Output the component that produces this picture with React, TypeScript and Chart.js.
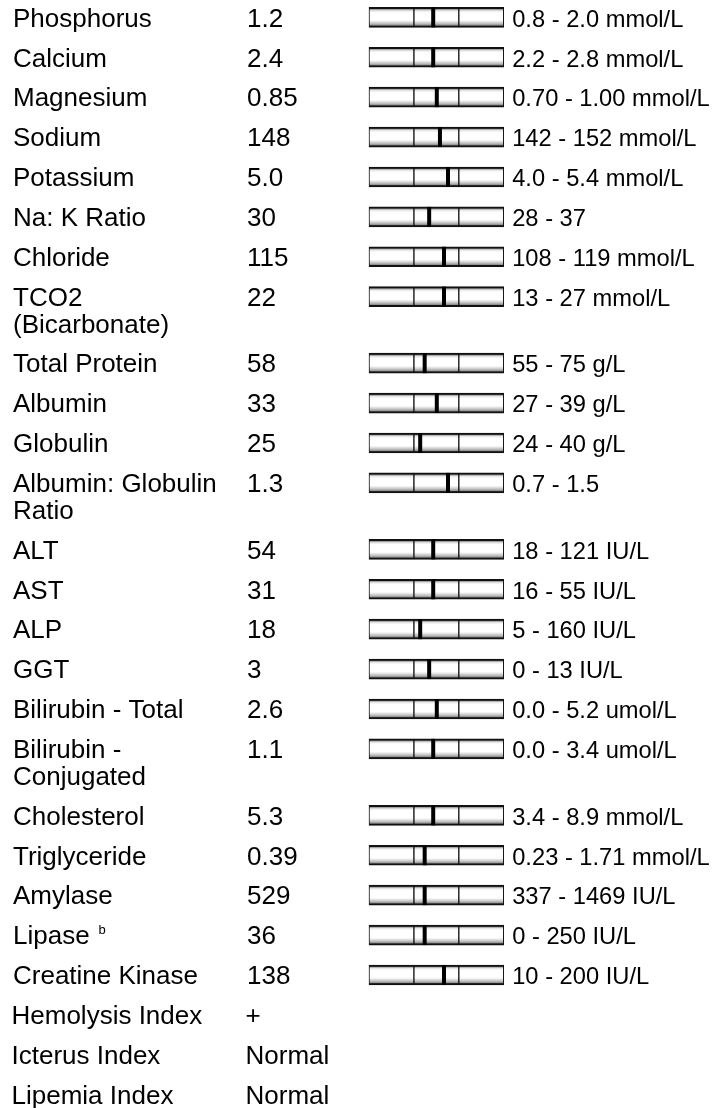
import React, { useEffect, useRef } from 'react';
import { Chart, registerables } from 'chart.js';

Chart.register(...registerables);

// ---- data ----
const testNames = [
  'Phosphorus', 'Calcium', 'Magnesium', 'Sodium', 'Potassium', 'Na: K Ratio', 'Chloride',
  'TCO2\n(Bicarbonate)', 'Total Protein', 'Albumin', 'Globulin', 'Albumin: Globulin\nRatio',
  'ALT', 'AST', 'ALP', 'GGT', 'Bilirubin - Total', 'Bilirubin -\nConjugated', 'Cholesterol',
  'Triglyceride', 'Amylase', 'Lipase', 'Creatine Kinase', 'Hemolysis Index', 'Icterus Index',
  'Lipemia Index',
];
const footnotes = [
  '', '', '', '', '', '', '', '', '', '', '', '', '', '', '', '', '', '', '', '', '', 'b', '', '', '', '',
];
const results = [
  '1.2', '2.4', '0.85', '148', '5.0', '30', '115', '22', '58', '33', '25', '1.3',
  '54', '31', '18', '3', '2.6', '1.1', '5.3', '0.39', '529', '36', '138', '+', 'Normal', 'Normal',
];
const refRanges = [
  '0.8 - 2.0 mmol/L', '2.2 - 2.8 mmol/L', '0.70 - 1.00 mmol/L', '142 - 152 mmol/L',
  '4.0 - 5.4 mmol/L', '28 - 37', '108 - 119 mmol/L', '13 - 27 mmol/L', '55 - 75 g/L',
  '27 - 39 g/L', '24 - 40 g/L', '0.7 - 1.5', '18 - 121 IU/L', '16 - 55 IU/L', '5 - 160 IU/L',
  '0 - 13 IU/L', '0.0 - 5.2 umol/L', '0.0 - 3.4 umol/L', '3.4 - 8.9 mmol/L',
  '0.23 - 1.71 mmol/L', '337 - 1469 IU/L', '0 - 250 IU/L', '10 - 200 IU/L', '', '', '',
];
// marker position inside the reference interval (0 = low limit, 1 = high limit), read from the gauges
const markerPos: (number | null)[] = [
  0.43, 0.43, 0.51, 0.58, 0.76, 0.34, 0.67, 0.67, 0.24, 0.51, 0.14, 0.76,
  0.43, 0.43, 0.14, 0.34, 0.51, 0.43, 0.43, 0.24, 0.24, 0.24, 0.67, null, null, null,
];
// gauge sections: below range, within range, above range
const gaugeSections: [number, number][] = [[-1, 0], [0, 1], [1, 2]];

// ---- layout ----
const W = 725;
const H = 1108;
const LINE_PX = 26.6;
const TOP_PX = 5.4;
const GAUGE_LEFT = 369;
const GAUGE_RIGHT = 503.7;
const NAME_X = 13;
const VALUE_X = 247;
const RANGE_GAP = 8.5;
const BASE_FRAC = 0.8;
const BAR_FRAC = 0.45;
const BAR_PX = 20;
const FAMILY = '"Liberation Sans", Arial, Helvetica, sans-serif';
const FONT = `26px ${FAMILY}`;
const RANGE_FONT = `23.7px ${FAMILY}`;
const SUP_FONT = `13px ${FAMILY}`;

const lineCounts = testNames.map((n) => n.split('\n').length);
const rowTops: number[] = [];
{
  let acc = 0;
  lineCounts.forEach((c) => {
    rowTops.push(acc);
    acc += c + 0.5;
  });
}
const gaugeRows = markerPos.map((m, i) => (m == null ? -1 : i)).filter((i) => i >= 0);

function gaugeFill(ctx: any) {
  const chart = ctx.chart;
  const raw = ctx.raw;
  if (!chart.chartArea || !raw) return '#ffffff';
  const yc = chart.scales.y.getPixelForValue(raw.y);
  const top = yc - BAR_PX / 2;
  const g = chart.ctx.createLinearGradient(0, top, 0, top + BAR_PX);
  g.addColorStop(0, '#000000');
  g.addColorStop(0.1, '#9a9a9a');
  g.addColorStop(0.17, '#e6e6e6');
  g.addColorStop(0.26, '#ffffff');
  g.addColorStop(0.64, '#ffffff');
  g.addColorStop(0.72, '#e2e2e2');
  g.addColorStop(0.81, '#c0c0c0');
  g.addColorStop(0.9, '#8a8a8a');
  g.addColorStop(1, '#000000');
  return g;
}

const textPlugin = {
  id: 'labTable',
  afterDraw(chart: any) {
    const { ctx, scales } = chart;
    const x = scales.x;
    const y = scales.y;
    ctx.save();
    ctx.fillStyle = '#000000';
    ctx.textAlign = 'left';
    ctx.textBaseline = 'alphabetic';
    testNames.forEach((name, i) => {
      const shift = markerPos[i] == null ? -1.5 : 0;
      const lines = name.split('\n');
      lines.forEach((ln, k) => {
        const by = y.getPixelForValue(rowTops[i] + k + BASE_FRAC);
        ctx.font = FONT;
        ctx.fillText(ln, NAME_X + shift, by);
        if (k === lines.length - 1 && footnotes[i]) {
          const w = ctx.measureText(ln).width;
          ctx.font = SUP_FONT;
          ctx.fillText(footnotes[i], NAME_X + shift + w + 9, by - 10);
        }
      });
      const by0 = y.getPixelForValue(rowTops[i] + BASE_FRAC);
      ctx.font = FONT;
      ctx.fillText(results[i], VALUE_X + shift, by0);
      if (refRanges[i]) {
        ctx.font = RANGE_FONT;
        ctx.fillText(refRanges[i], x.getPixelForValue(2) + RANGE_GAP, by0);
      }
    });
    ctx.restore();
  },
};

export default function App() {
  const ref = useRef<HTMLCanvasElement | null>(null);
  useEffect(() => {
    document.body.style.margin = '0';
    const canvas = ref.current;
    if (!canvas) return;
    const sectionSets = gaugeSections.map(([a, b], si) => ({
      type: 'bar' as const,
      label: ['below', 'within', 'above'][si],
      indexAxis: 'y' as const,
      data: gaugeRows.map((i) => ({ x: [a, b], y: rowTops[i] + BAR_FRAC })),
      backgroundColor: gaugeFill,
      borderColor: '#111111',
      borderWidth: { top: 2, bottom: 2, left: 1, right: 1 },
      borderSkipped: false,
      barThickness: BAR_PX,
      grouped: false,
      clip: false,
      order: 2,
    }));
    const markerSet = {
      type: 'scatter' as const,
      label: 'result',
      data: gaugeRows.map((i) => ({ x: markerPos[i] as number, y: rowTops[i] + BAR_FRAC })),
      pointStyle: 'line',
      rotation: 90,
      radius: BAR_PX / 2,
      hoverRadius: BAR_PX / 2,
      borderWidth: 4,
      hoverBorderWidth: 4,
      borderColor: '#000000',
      backgroundColor: '#000000',
      clip: false,
      order: 1,
    };
    const yMin = -TOP_PX / LINE_PX;
    const chart = new Chart(canvas, {
      type: 'scatter',
      data: { datasets: [...sectionSets, markerSet] as any },
      options: {
        responsive: false,
        maintainAspectRatio: false,
        animation: false,
        devicePixelRatio: 1,
        events: [],
        layout: {
          autoPadding: false,
          padding: { left: GAUGE_LEFT, right: W - GAUGE_RIGHT, top: 0, bottom: 0 },
        },
        scales: {
          x: { type: 'linear', min: -1, max: 2, offset: false, grace: 0, display: false },
          y: {
            type: 'linear', reverse: true, offset: false, grace: 0,
            min: yMin, max: yMin + H / LINE_PX, display: false,
          },
        },
        plugins: { legend: { display: false }, tooltip: { enabled: false }, title: { display: false } },
      } as any,
      plugins: [textPlugin],
    });
    return () => chart.destroy();
  }, []);
  return <canvas ref={ref} width={W} height={H} style={{ display: 'block', width: W + 'px', height: H + 'px' }} />;
}
